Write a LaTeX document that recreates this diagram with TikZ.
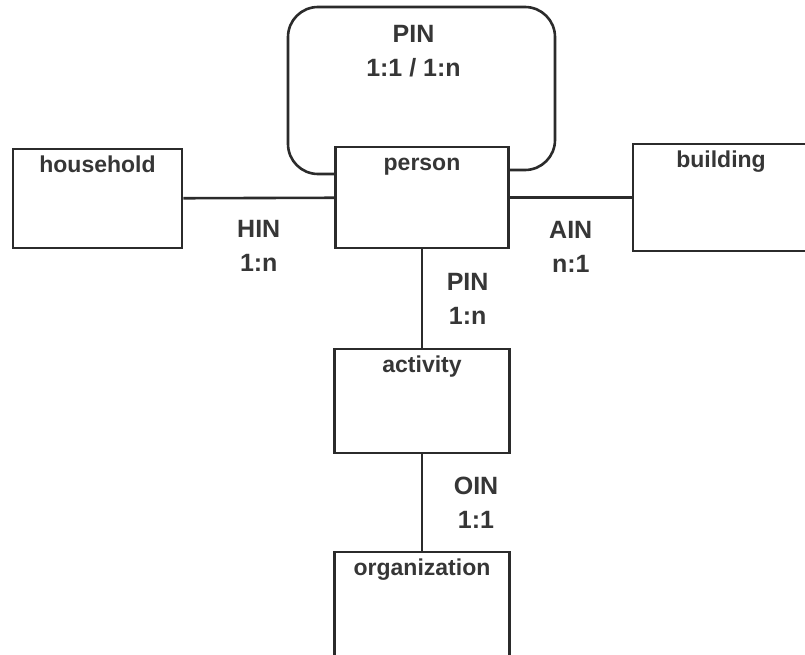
\documentclass[tikz,border=0pt]{standalone}
\usepackage{fontspec}
\setmainfont{Liberation Sans}
\usetikzlibrary{positioning}
\definecolor{inkgray}{HTML}{2B2B2B}
\definecolor{textgray}{HTML}{363636}

\begin{document}
\begin{tikzpicture}[x=1pt, y=-1pt,
    entity/.style={draw=inkgray, rectangle, line width=2.6pt, inner sep=0pt,
        label={[anchor=north, inner sep=8pt, text height=16.5pt, text=textgray,
                font=\fontsize{23}{28}\selectfont\bfseries]north:#1}},
    link/.style={draw=inkgray, line width=2.6pt},
    rel/.style={text=textgray, align=center, inner sep=0pt,
        font=\fontsize{25}{34}\selectfont\bfseries}]
    \useasboundingbox (0,0) rectangle (805,655);
    \clip (0,0) rectangle (805,655);

    \node[entity=household, minimum width=169pt, minimum height=99pt] (household) at (97.5,198.5) {};
    \node[entity=person, minimum width=173pt, minimum height=101pt] (person) at (422,197.5) {};
    \node[entity=building, minimum width=176pt, minimum height=107pt] (building) at (721,197.5) {};
    \node[entity=activity, minimum width=175pt, minimum height=104pt] (activity) at (422,401) {};
    \node[entity=organization, minimum width=175pt, minimum height=108pt] (organization) at (422,606) {};

    \draw[link, rounded corners=30pt]
        ([yshift=23.5pt]person.west) -- (288,174) -- (288,7)
        -- node[rel, below=17pt, xshift=-8pt] {PIN\\1:1 / 1:n} (555,7)
        -- (555,170) -- ([yshift=27.5pt]person.east);
    \draw[link] (household) -- node[rel, below=21pt] {HIN\\1:n} (person);
    \draw[link] (person) -- node[rel, below=22pt] {AIN\\n:1} (building);
    \draw[link] (person) -- node[rel, right=23.5pt] {PIN\\1:n} (activity);
    \draw[link] (activity) -- node[rel, right=30.5pt] {OIN\\1:1} (organization);
\end{tikzpicture}
\end{document}
